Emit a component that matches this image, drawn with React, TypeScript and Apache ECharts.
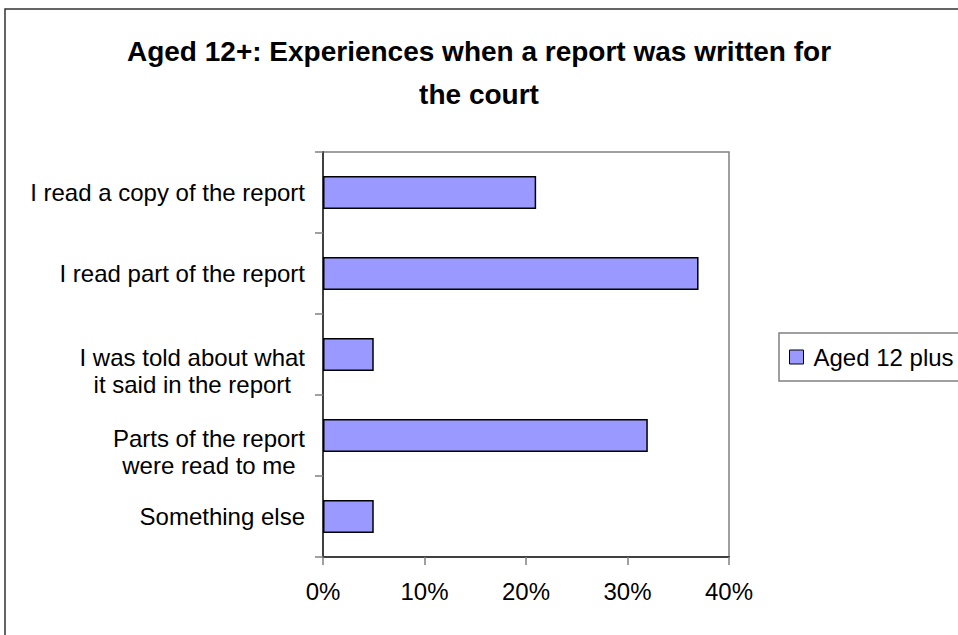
import React, { useEffect, useRef } from 'react';
import * as echarts from 'echarts';

const titleText = 'Aged 12+: Experiences when a report was written for\nthe court';
const categories = [
  'I read a copy of the report',
  'I read part of the report',
  'I was told about what\nit said in the report',
  'Parts of the report\nwere read to me',
  'Something else',
];
const seriesName = 'Aged 12 plus';
const values = [21, 37, 5, 32, 5];
const xMin = 0;
const xMax = 40;
const xStep = 10;

const F = 'Arial, "Liberation Sans", sans-serif';

export default function App() {
  const ref = useRef<HTMLDivElement>(null);
  useEffect(() => {
    if (!ref.current) return;
    const chart = echarts.init(ref.current, null, { renderer: 'svg' });
    const catData = categories.map((c) =>
      c.includes('\n') ? { value: c, textStyle: { padding: [32, 0, 0, 0] } } : c
    );
    chart.setOption({
      animation: false,
      backgroundColor: '#fff',
      graphic: [
        {
          type: 'rect',
          z: -1,
          shape: { x: 5, y: 9, width: 1100, height: 800 },
          style: { fill: 'none', stroke: '#333', lineWidth: 1.5 },
        },
      ],
      title: {
        text: titleText,
        left: 'center',
        top: 30,
        padding: [0, 12, 0, 0],
        textStyle: { fontSize: 28, fontWeight: 'bold', color: '#000', fontFamily: F, lineHeight: 43 },
      },
      legend: {
        left: 779,
        top: 333,
        orient: 'vertical',
        borderColor: '#808080',
        borderWidth: 1.5,
        padding: [12, 8, 12, 10],
        itemWidth: 14,
        itemHeight: 14,
        icon: 'rect',
        itemStyle: { borderColor: '#000', borderWidth: 1 },
        textStyle: { fontSize: 24, fontFamily: F, color: '#000', padding: [0, 0, 0, 5] },
        data: [seriesName],
      },
      grid: {
        left: 323,
        top: 152,
        right: 229,
        bottom: 78,
        show: true,
        borderColor: '#808080',
        borderWidth: 1.5,
        containLabel: false,
      },
      xAxis: {
        type: 'value',
        min: xMin,
        max: xMax,
        interval: xStep,
        axisLine: { show: true, lineStyle: { color: '#404040', width: 2 } },
        axisTick: { show: true, length: 8, lineStyle: { color: '#808080', width: 1.5 } },
        splitLine: { show: false },
        axisLabel: { formatter: '{value}%', fontSize: 24, fontFamily: F, color: '#000', margin: 22 },
      },
      yAxis: {
        type: 'category',
        data: catData,
        inverse: true,
        axisLine: { show: true, lineStyle: { color: '#404040', width: 2 } },
        axisTick: { show: true, length: 8, lineStyle: { color: '#808080', width: 1.5 } },
        axisLabel: {
          margin: 18,
          color: '#000',
          formatter: (v: string) => v.split('\n').map((l) => `{c|${l}}`).join('\n'),
          rich: { c: { align: 'center', fontSize: 24, fontFamily: F, color: '#000', lineHeight: 27 } },
        },
      },
      series: [
        {
          name: seriesName,
          type: 'bar',
          data: values,
          barWidth: '41%',
          itemStyle: { color: '#9999FF', borderColor: '#000', borderWidth: 1.5 },
        },
      ],
    });
    return () => chart.dispose();
  }, []);
  return <div ref={ref} style={{ position: 'fixed', left: 0, top: 0, width: 958, height: 635 }} />;
}
